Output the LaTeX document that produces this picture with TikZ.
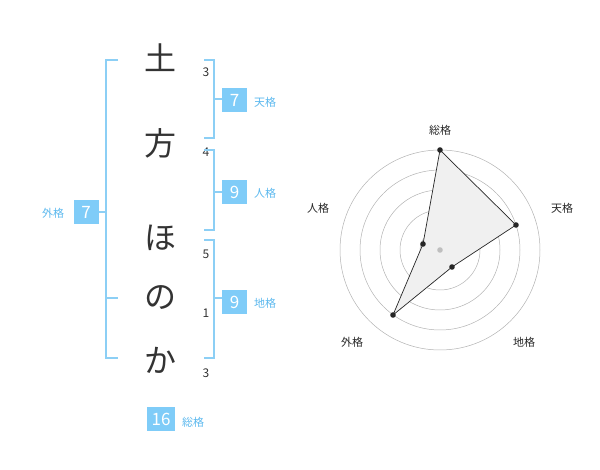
\documentclass[tikz,border=0pt]{standalone}
\usepackage{fontspec}
\setmainfont{Noto Sans CJK JP}
\begin{document}
\begin{tikzpicture}[x=1pt,y=-1pt,
  br/.style={draw=cyan!50!blue!40, line width=1.2pt},
  bx/.style={fill=boxc, text=white, minimum width=25pt, minimum height=24pt, inner sep=0pt, font=\fontsize{17}{17}\selectfont},
  lb/.style={text=labc, font=\fontsize{11}{11}\selectfont},
  ch/.style={font=\fontsize{32}{32}\selectfont, text=black!80},
  num/.style={font=\fontsize{12}{12}\selectfont, text=black!80},
  rl/.style={font=\fontsize{11}{11}\selectfont, text=black!85}]
\definecolor{boxc}{HTML}{7FCCF8}
\definecolor{labc}{HTML}{5BB8EE}
\definecolor{brc}{HTML}{8CCFF5}
\useasboundingbox (0,0) rectangle (600,470);
\node[ch] (c1) at (160,58) {土};
\node[ch] (c2) at (160,143) {方};
\node[ch] (c3) at (160,238) {ほ};
\node[ch] (c4) at (160,298) {の};
\node[ch] (c5) at (160,360) {か};
\node[num] (n1) at (206,72) {3};
\node[num] (n2) at (206,152) {4};
\node[num] (n3) at (206,254) {5};
\node[num] (n4) at (206,313) {1};
\node[num] (n5) at (206,373) {3};
\begin{scope}[draw=brc, line width=1.2pt]
\draw (118,60) -- (106,60) -- (106,358) -- (118,358);
\draw (106,298) -- (118,298);
\draw (204,60) -- (214,60) -- (214,138) -- (204,138);
\draw (204,150) -- (214,150) -- (214,230) -- (204,230);
\draw (204,240) -- (214,240) -- (214,358) -- (204,358);
\draw (214,99) -- (222,99);
\draw (214,192) -- (222,192);
\draw (214,298) -- (222,298);
\draw (98,212) -- (106,212);
\end{scope}
\node[bx] (b1) at (234.5,100) {7};
\node[lb] (l1) at (265,102) {天格};
\node[bx] (b2) at (234.5,192) {9};
\node[lb] (l2) at (265,193) {人格};
\node[bx] (b3) at (234.5,302) {9};
\node[lb] (l3) at (265,303) {地格};
\node[bx] (b4) at (86,212) {7};
\node[lb] (l4) at (53,213) {外格};
\node[bx, minimum width=28pt] (b5) at (161,419) {16};
\node[lb] (l5) at (193,422) {総格};
% radar
\coordinate (o) at (440,250);
\foreach \r in {20,40,60,80,100} \draw[black!30, line width=0.5pt] (o) circle[radius=\r];
\coordinate (p1) at (440,150);
\coordinate (p2) at (516,225);
\coordinate (p3) at (452,267);
\coordinate (p4) at (393,315);
\coordinate (p5) at (423,244);
\filldraw[fill=black!6, draw=black!85, line width=0.7pt] (p1) -- (p2) -- (p3) -- (p4) -- (p5) -- cycle;
\foreach \p in {p1,p2,p3,p4,p5} \fill[black!85] (\p) circle[radius=2.8];
\fill[black!25] (o) circle[radius=2.8];
\node[rl] (r1) at (440,130) {総格};
\node[rl] (r2) at (562,208) {天格};
\node[rl] (r3) at (524,342) {地格};
\node[rl] (r4) at (352,342) {外格};
\node[rl] (r5) at (318,208) {人格};
\end{tikzpicture}
\end{document}
